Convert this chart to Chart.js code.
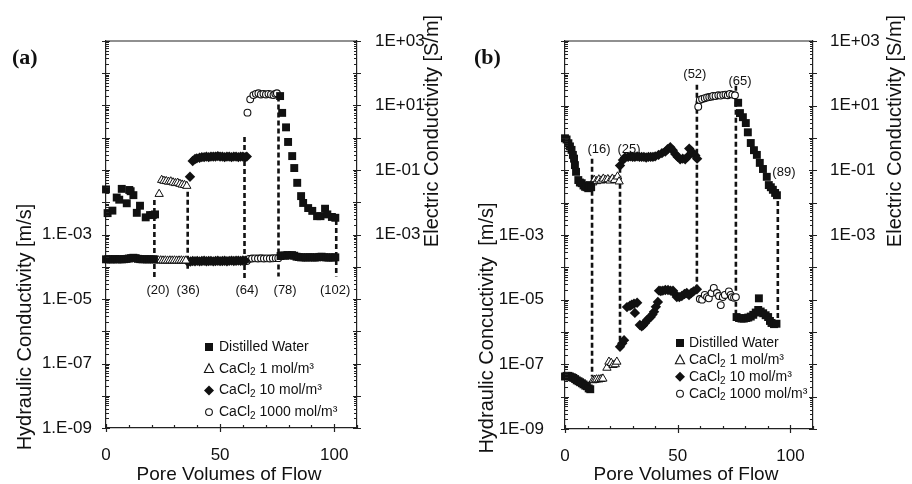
<!DOCTYPE html>
<html>
<head>
<meta charset="utf-8">
<script src="https://cdn.jsdelivr.net/npm/chart.js@4.4.0/dist/chart.umd.min.js"></script>
<style>
  body { margin: 0; background: #fff; }
  .wrap { display: flex; width: 912px; height: 484px; }
  .panel { width: 456px; height: 484px; }
</style>
</head>
<body>
<div class="wrap">
  <div class="panel"><canvas id="chartA" width="456" height="484"></canvas></div>
  <div class="panel"><canvas id="chartB" width="456" height="484"></canvas></div>
</div>
<script>
// ---------- panel (a) : electric conductivity (upper traces) ----------
const aWaterEC = [[0,0.025],[0.7,0.0046],[2.8,0.0055],[4.7,0.014],[5.8,0.012],[6.9,0.026],[9.1,0.0093],
  [10.2,0.024],[10.8,0.022],[12,0.0166],[13.5,0.0047],[14.9,0.0078],[17.4,0.0034],[19.3,0.004],[20.5,0.004],[21.5,0.0042],
  [76.3,19.6],[77.2,5.9],[78.9,2.1],[79.8,0.74],[81.6,0.27],[82.5,0.115],[83.8,0.04],[85.5,0.0155],[86.4,0.0095],
  [88.6,0.0066],[90.4,0.0054],[92.5,0.0037],[94,0.0037],[96,0.0063],[97,0.0042],[99,0.0035],[100.5,0.0033]];
const aCa1EC = [[23.3,0.018],[24.4,0.049],[25.4,0.046],[26.4,0.045],[27.4,0.043],[28.4,0.044],[29.4,0.041],
  [30.4,0.039],[31.4,0.04],[32.4,0.037],[33.4,0.035],[34.4,0.034],[35.4,0.032]];
const aCa10EC = [[36.8,0.062],[38,0.19],[39,0.22],[39.8,0.23],[41,0.24],[42,0.25],[43,0.25],[44,0.26],[45,0.25],
  [46,0.26],[47,0.26],[48,0.26],[49,0.27],[50,0.26],[51,0.26],[52,0.25],[53,0.26],[54,0.26],[55,0.25],[56,0.26],
  [57,0.26],[58,0.25],[59,0.26],[60,0.26],[61,0.25],[61.7,0.26]];
const aCa1000EC = [[62,6.0],[63.2,15.5],[64.6,21],[65.7,23],[66.8,24],[67.9,22],[69,23],[70.1,22],[71.2,23],
  [72.3,22],[73.4,21],[74.2,23],[74.9,24]];
// ---------- panel (a) : hydraulic conductivity (lower band) ----------
const aWaterHC = [[0,1.7e-4],[1,1.72e-4],[2,1.68e-4],[3,1.7e-4],[4,1.73e-4],[5,1.69e-4],[6,1.71e-4],[7,1.7e-4],
  [8,1.72e-4],[9,1.75e-4],[10,1.8e-4],[11,1.85e-4],[12,1.9e-4],[13,1.85e-4],[14,1.76e-4],[15,1.72e-4],[16,1.7e-4],
  [17,1.72e-4],[18,1.69e-4],[19,1.7e-4],[20,1.71e-4],[21,1.7e-4],
  [76.5,2.15e-4],[77.5,2.25e-4],[78.5,2.2e-4],[79.5,2.3e-4],[80.5,2.25e-4],[81.5,2.3e-4],[82.5,2.2e-4],[83.5,2.05e-4],
  [84.5,2.0e-4],[85.5,1.95e-4],[86.5,1.97e-4],[87.5,1.93e-4],[88.5,1.95e-4],[89.5,1.98e-4],[90.5,1.95e-4],
  [91.5,1.93e-4],[92.5,1.96e-4],[93.5,2.02e-4],[94.5,2.05e-4],[95.5,1.98e-4],[96.5,1.95e-4],[97.5,1.93e-4],
  [98.5,1.95e-4],[99.5,1.94e-4],[100.5,1.96e-4]];
const aCa1HC = [[22,1.58e-4],[23,1.56e-4],[24,1.57e-4],[25,1.55e-4],[26,1.56e-4],[27,1.54e-4],[28,1.56e-4],
  [29,1.55e-4],[30,1.56e-4],[31,1.54e-4],[32,1.55e-4],[33,1.56e-4],[34,1.54e-4],[35,1.55e-4]];
const aCa10HC = [[36,1.4e-4],[37,1.45e-4],[38,1.5e-4],[39,1.48e-4],[40,1.52e-4],[41,1.47e-4],[42,1.5e-4],
  [43,1.53e-4],[44,1.48e-4],[45,1.5e-4],[46,1.52e-4],[47,1.47e-4],[48,1.51e-4],[49,1.54e-4],[50,1.49e-4],
  [51,1.5e-4],[52,1.53e-4],[53,1.48e-4],[54,1.52e-4],[55,1.55e-4],[56,1.5e-4],[57,1.53e-4],[58,1.55e-4],
  [59,1.52e-4],[60,1.56e-4],[61,1.55e-4]];
const aCa1000HC = [[61.7,1.5e-4],[62.7,1.75e-4],[64,1.8e-4],[65.3,1.82e-4],[66.6,1.8e-4],[67.9,1.83e-4],
  [69.2,1.8e-4],[70.5,1.82e-4],[71.8,1.8e-4],[73.1,1.83e-4],[74.4,1.85e-4],[75.5,1.85e-4]];
// dashed change-over lines: [pore volume, top, bottom]
const aBreaks = [[21.2,0.0118,4.8e-5],[35.8,0.021,7.4e-5],[60.7,1.05,4.5e-5],[75.6,19,5e-5],[100.9,0.0028,5e-5]];
const aBreakLabels = ['(20)','(36)','(64)','(78)','(102)'];

// ---------- panel (b) : electric conductivity ----------
const bWaterEC = [[0,0.98],[0.7,0.9],[1.5,0.69],[2.2,0.55],[2.9,0.43],[3.5,0.3],[4,0.23],[4.4,0.145],[4.9,0.09],
  [5.9,0.05],[6.6,0.042],[7.4,0.04],[8.2,0.034],[8.9,0.031],[9.6,0.03],[10.3,0.028],[11,0.035],[11.6,0.03],
  [76.8,12.3],[77.6,5.9],[78.9,4.4],[80.2,2.9],[81.1,1.5],[82.4,0.7],[83.8,0.42],[85.1,0.3],[86.4,0.17],
  [87.8,0.11],[89.5,0.063],[90.4,0.035],[91.3,0.03],[92.2,0.025],[93.2,0.02],[94,0.017]];
const bCa1EC = [[12.3,0.042],[13,0.05],[14,0.046],[15,0.052],[16,0.048],[17,0.055],[18,0.05],[19,0.053],
  [20,0.048],[21,0.055],[22,0.05],[23.3,0.064],[24,0.045]];
const bCa10EC = [[24.4,0.14],[25.7,0.21],[26.6,0.25],[28,0.26],[29,0.27],[30,0.26],[31,0.26],[32,0.27],[33,0.26],
  [34,0.26],[35,0.26],[36,0.25],[37,0.26],[38,0.26],[39,0.26],[40,0.27],[41.5,0.3],[43,0.34],[44.5,0.38],
  [45.5,0.45],[46.7,0.52],[47.8,0.42],[48.9,0.32],[50,0.26],[51.1,0.22],[52.2,0.23],[53.3,0.22],[54.3,0.26],
  [55.1,0.47],[56.3,0.37],[57.8,0.29],[58.6,0.23]];
const bCa1000EC = [[59.1,9.3],[59.8,15],[60.8,16],[62,17],[63,18],[64,18.5],[65,19],[65.7,20],[66.8,20],
  [68,21],[69,20.5],[70.2,21.5],[71.2,22],[72.2,21],[73.1,23],[74.2,22],[75.4,21]];
// ---------- panel (b) : hydraulic conductivity ----------
const bWaterHC = [[0,4.2e-8],[0.7,4.4e-8],[1.5,4.4e-8],[2.2,4.2e-8],[3,4e-8],[3.7,3.8e-8],[4.5,3.5e-8],
  [5.2,3.2e-8],[6,3e-8],[6.7,2.8e-8],[7.5,2.6e-8],[8.2,2.4e-8],[9,2.2e-8],[9.7,2.1e-8],[10.5,1.8e-8],[11.2,1.7e-8],
  [76.1,2.9e-6],[77.2,2.7e-6],[78.3,2.6e-6],[79.3,2.6e-6],[80.4,2.7e-6],[81.3,2.8e-6],[82.4,3.0e-6],[83.5,3.4e-6],
  [84.6,4.0e-6],[85.7,4.8e-6],[86,1.1e-5],[86.8,4.3e-6],[87.9,3.8e-6],[89,3.3e-6],[90.1,2.9e-6],[90.9,2.2e-6],
  [91.6,1.9e-6],[92.7,1.75e-6],[93.8,1.8e-6]];
const bCa1HC = [[12.4,3.2e-8],[13.2,3.3e-8],[14,3.4e-8],[15,3.4e-8],[16,3.5e-8],[16.8,3.6e-8],[18.6,7.8e-8],
  [19.5,1.2e-7],[20.5,1.1e-7],[21.3,9.5e-8],[22.3,1.0e-7],[23,1.2e-7]];
const bCa10HC = [[24.4,3.5e-7],[25.4,4.5e-7],[26.2,5.6e-7],[27.5,5.9e-6],[28.8,6.5e-6],[29.6,7e-6],[30.6,7.5e-6],
  [31,3.9e-6],[32,8e-6],[33.2,1.65e-6],[34,1.5e-6],[34.6,1.6e-6],[35.5,1.9e-6],[36.3,2.3e-6],[37.2,2.6e-6],
  [38,2.9e-6],[38.8,3.5e-6],[39.5,4.2e-6],[40.3,6e-6],[41.2,8.5e-6],[41.7,1.9e-5],[42.5,1.85e-5],[43.4,1.9e-5],
  [44.5,2e-5],[45.7,2e-5],[46.8,1.9e-5],[47.9,1.9e-5],[48.8,1.5e-5],[49.6,1.2e-5],[50.7,1.2e-5],[51.8,1.3e-5],
  [53,1.5e-5],[54,1.6e-5],[55,1.4e-5],[56,1.6e-5],[57,1.8e-5],[58.5,2.1e-5]];
const bCa1000HC = [[59.8,1.05e-5],[60.8,1.0e-5],[62,1.4e-5],[63,1.2e-5],[63.8,1.1e-5],[65,1.6e-5],[66,2.3e-5],
  [67.4,1.6e-5],[68.3,1.3e-5],[69.1,6.8e-6],[70,1.2e-5],[70.9,1.4e-5],[72.7,1.8e-5],[73.5,1.4e-5],[74,1.2e-5],
  [75,1.15e-5],[75.8,1.2e-5]];
const bBreaks = [[12,0.23,4.2e-8],[24.4,0.12,3.5e-7],[58.5,44,2.3e-5],[75.8,41,2.7e-6],[94.4,0.02,1.8e-6]];
const bBreakLabels = ['(16)','(25)','(52)','(65)','(89)'];

// ---------- axes ----------
const xTickVals = [0, 50, 100];
const yTickVals = [1e-9, 1e-7, 1e-5, 1e-3];
const y2TickVals = [1e-3, 1e-1, 1e1, 1e3];
const aLeftTickText = ['1.E-09', '1.E-07', '1.E-05', '1.E-03'];
const bLeftTickText = ['1E-09', '1E-07', '1E-05', '1E-03'];
const rightTickText = ['1E-03', '1E-01', '1E+01', '1E+03'];
const legendNames = ['Distilled Water', 'CaCl|2| 1 mol/m³', 'CaCl|2| 10 mol/m³', 'CaCl|2| 1000 mol/m³'];

const FONT = '"Liberation Sans", Arial, Helvetica, sans-serif';
const INK = '#111';

const STYLES = {
  rect:     { pointStyle: 'rect',     pointRadius: 5.6, pointBackgroundColor: INK,    pointBorderColor: INK, pointBorderWidth: 0 },
  triangle: { pointStyle: 'triangle', pointRadius: 4.8, pointBackgroundColor: '#fff', pointBorderColor: INK, pointBorderWidth: 1 },
  rectRot:  { pointStyle: 'rectRot',  pointRadius: 5.2, pointBackgroundColor: INK,    pointBorderColor: INK, pointBorderWidth: 0 },
  circle:   { pointStyle: 'circle',   pointRadius: 3.4, pointBackgroundColor: '#fff', pointBorderColor: INK, pointBorderWidth: 1.1 }
};
const KINDS = ['rect', 'triangle', 'rectRot', 'circle'];

function pts(pairs) { return pairs.map(p => ({ x: p[0], y: p[1] })); }

function markerSet(pairs, kind) {
  const s = STYLES[kind];
  return Object.assign({ data: pts(pairs), showLine: false, clip: false, order: 1,
    pointHoverRadius: s.pointRadius }, s);
}

function breakSet(b) {
  return { type: 'line', data: [{ x: b[0], y: b[1] }, { x: b[0], y: b[2] }], showLine: true, clip: false,
    borderColor: INK, borderWidth: 2.6, borderDash: [5, 3], pointRadius: 0, order: 5 };
}

function drawMarker(ctx, kind, x, y) {
  ctx.fillStyle = INK; ctx.strokeStyle = INK; ctx.lineWidth = 1.1;
  ctx.beginPath();
  if (kind === 'rect') { ctx.fillRect(x - 4, y - 4, 8, 8); return; }
  if (kind === 'rectRot') {
    ctx.moveTo(x, y - 5); ctx.lineTo(x + 5, y); ctx.lineTo(x, y + 5); ctx.lineTo(x - 5, y);
    ctx.closePath(); ctx.fill(); return;
  }
  if (kind === 'triangle') {
    ctx.moveTo(x, y - 5); ctx.lineTo(x + 4.6, y + 3.8); ctx.lineTo(x - 4.6, y + 3.8); ctx.closePath();
    ctx.stroke(); return;
  }
  ctx.arc(x, y, 3.4, 0, Math.PI * 2); ctx.stroke();
}

// text with |sub| parts drawn as subscripts
function drawRich(ctx, text, x, y, size) {
  const parts = text.split('|');
  let cx = x;
  parts.forEach((t, i) => {
    const sub = i % 2 === 1;
    ctx.font = (sub ? size - 4 : size) + 'px ' + FONT;
    ctx.fillText(t, cx, sub ? y + 4 : y);
    cx += ctx.measureText(t).width;
  });
}

function makeDecor(p) {
  return {
    id: 'decor' + p.id,
    afterDraw(chart) {
      const ctx = chart.ctx, ca = chart.chartArea;
      const xs = chart.scales.x, ys = chart.scales.y;
      ctx.save();
      ctx.strokeStyle = '#222'; ctx.lineWidth = 1.2;
      ctx.beginPath();
      ctx.moveTo(ca.left, ca.top); ctx.lineTo(ca.right, ca.top);
      // log ticks on both y axes
      for (let e = -9; e <= 3; e++) {
        for (let m = 1; m <= 9; m++) {
          if (e === 3 && m > 1) break;
          const py = Math.round(ys.getPixelForValue(m * Math.pow(10, e))) + 0.5;
          const major = m === 1;
          ctx.moveTo(ca.left - (major ? 4 : 0), py); ctx.lineTo(ca.left + (major ? 4 : 3), py);
          ctx.moveTo(ca.right + (major ? 4 : 0), py); ctx.lineTo(ca.right - (major ? 4 : 3), py);
        }
      }
      for (let v = 0; v <= 110; v += 10) {
        const px = Math.round(xs.getPixelForValue(v)) + 0.5;
        const major = v % 50 === 0;
        ctx.moveTo(px, ca.bottom + (major ? 4 : 0)); ctx.lineTo(px, ca.bottom - (major ? 4 : 3));
      }
      ctx.stroke();

      ctx.fillStyle = INK;
      ctx.textBaseline = 'middle';
      // change-over labels
      ctx.textAlign = 'center';
      ctx.font = '13px ' + FONT;
      p.breakLabels.forEach((t, i) => {
        const pos = p.breakLabelPos[i];
        ctx.fillText(t, xs.getPixelForValue(pos[0]), ys.getPixelForValue(pos[1]));
      });
      // legend
      ctx.textAlign = 'left';
      legendNames.forEach((t, i) => {
        const ly = p.legend.y0 + i * p.legend.dy;
        drawMarker(ctx, KINDS[i], p.legend.mx, ly);
        ctx.fillStyle = INK;
        drawRich(ctx, t, p.legend.tx, ly, 14);
      });
      // axis titles
      ctx.textAlign = 'center';
      ctx.font = '19px ' + FONT;
      ctx.fillText('Pore Volumes of Flow', p.xTitle[0], p.xTitle[1]);
      ctx.font = '20px ' + FONT;
      [[p.yTitle, p.yTitlePos], ['Electric Conductivity [S/m]', p.y2TitlePos]].forEach(([t, pos]) => {
        ctx.save();
        ctx.translate(pos[0], pos[1]);
        ctx.rotate(-Math.PI / 2);
        ctx.fillText(t, 0, 0);
        ctx.restore();
      });
      // panel tag
      ctx.textAlign = 'left';
      ctx.font = 'bold 22px "Liberation Serif", "Times New Roman", serif';
      ctx.fillText(p.tag, p.tagPos[0], p.tagPos[1]);
      ctx.restore();
    }
  };
}

function yAxis(pos, vals, texts, pad, width) {
  return {
    type: 'logarithmic', position: pos, min: 1e-9, max: 1e3,
    grid: { display: false },
    border: { display: true, color: '#222', width: 1.2 },
    ticks: { color: INK, padding: pad, autoSkip: false, font: { family: FONT, size: 17 },
      callback: (v, i) => texts[i] },
    afterBuildTicks: s => { s.ticks = vals.map(v => ({ value: v })); },
    afterFit: s => { s.width = width; }
  };
}

function build(p) {
  const datasets = [
    ...p.breaks.map(breakSet),
    markerSet(p.ec[0], 'rect'), markerSet(p.ec[1], 'triangle'), markerSet(p.ec[2], 'rectRot'), markerSet(p.ec[3], 'circle'),
    markerSet(p.hc[0], 'rect'), markerSet(p.hc[1], 'triangle'), markerSet(p.hc[2], 'rectRot'), markerSet(p.hc[3], 'circle')
  ];
  new Chart(document.getElementById(p.id), {
    type: 'scatter',
    data: { datasets },
    options: {
      responsive: false, animation: false, devicePixelRatio: 1,
      layout: { padding: { top: 41, left: 0, right: 0, bottom: 0 } },
      plugins: { legend: { display: false }, tooltip: { enabled: false } },
      scales: {
        x: {
          type: 'linear', min: 0, max: 110,
          grid: { display: false },
          border: { display: true, color: '#222', width: 1.2 },
          ticks: { color: INK, padding: 9, font: { family: FONT, size: 17 } },
          afterBuildTicks: s => { s.ticks = xTickVals.map(v => ({ value: v })); },
          afterFit: s => { s.height = p.bottomH; }
        },
        y: yAxis('left', yTickVals, p.leftTicks, p.leftPad, p.leftW),
        y2: yAxis('right', y2TickVals, rightTickText, p.rightPad, p.rightW)
      }
    },
    plugins: [makeDecor(p)]
  });
}

build({
  id: 'chartA', tag: '(a)', tagPos: [12, 58],
  ec: [aWaterEC, aCa1EC, aCa10EC, aCa1000EC], hc: [aWaterHC, aCa1HC, aCa10HC, aCa1000HC],
  breaks: aBreaks, breakLabels: aBreakLabels,
  breakLabelPos: [[22.8, 1.9e-5], [36, 1.9e-5], [61.8, 1.9e-5], [78.5, 1.9e-5], [100.4, 1.9e-5]],
  leftTicks: aLeftTickText, leftPad: 6, rightPad: 10, leftW: 106, rightW: 99, bottomH: 56,
  legend: { mx: 209, tx: 219, y0: 347, dy: 21.7 },
  xTitle: [229, 475], yTitle: 'Hydraulic Conductivity [m/s]', yTitlePos: [25, 327], y2TitlePos: [432, 131]
});

build({
  id: 'chartB', tag: '(b)', tagPos: [18, 58],
  ec: [bWaterEC, bCa1EC, bCa10EC, bCa1000EC], hc: [bWaterHC, bCa1HC, bCa10HC, bCa1000HC],
  breaks: bBreaks, breakLabels: bBreakLabels,
  breakLabelPos: [[15.1, 0.43], [28.4, 0.43], [57.6, 95], [77.6, 58], [97.1, 0.089]],
  leftTicks: bLeftTickText, leftPad: 13, rightPad: 9, leftW: 109, rightW: 99, bottomH: 55,
  legend: { mx: 224, tx: 233, y0: 343, dy: 16.9 },
  xTitle: [230, 475], yTitle: 'Hydraulic Concuctivity  [m/s]', yTitlePos: [31, 328], y2TitlePos: [439, 131]
});
</script>
</body>
</html>
